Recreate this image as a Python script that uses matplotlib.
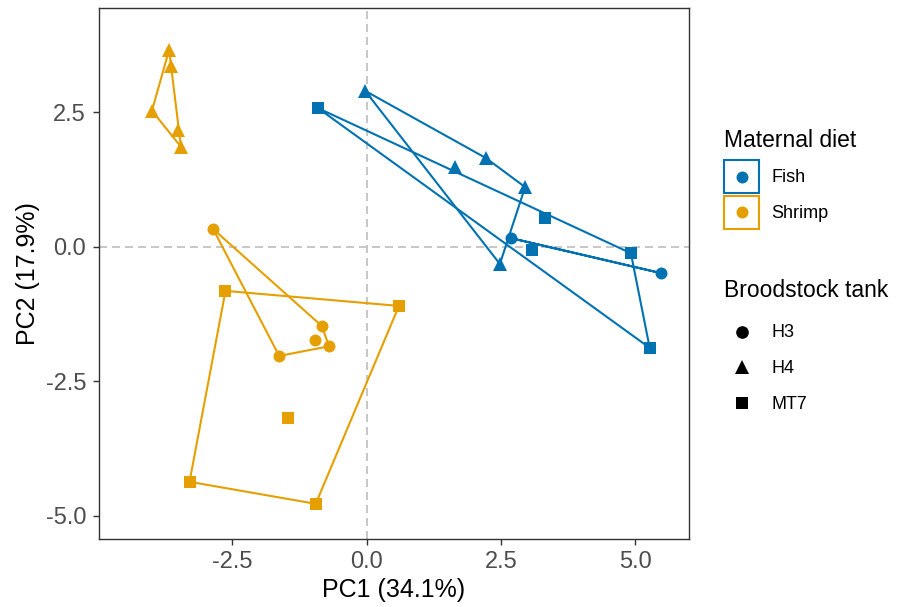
import matplotlib
matplotlib.use("Agg")
import matplotlib.pyplot as plt
from matplotlib.lines import Line2D
from matplotlib.patches import Rectangle
from matplotlib.legend_handler import HandlerTuple, HandlerLine2D
import numpy as np

plt.rcParams['font.family'] = ['Liberation Sans', 'DejaVu Sans']

# PCA scores, by maternal diet and broodstock tank
fish_h3_x = [2.69, 5.48]
fish_h3_y = [0.16, -0.49]
fish_h4_x = [-0.03, 1.64, 2.22, 2.95, 2.48]
fish_h4_y = [2.90, 1.48, 1.65, 1.11, -0.32]
fish_mt7_x = [-0.91, 3.32, 3.08, 4.92, 5.27]
fish_mt7_y = [2.58, 0.53, -0.06, -0.12, -1.88]

shrimp_h3_x = [-2.86, -1.63, -0.84, -0.96, -0.70]
shrimp_h3_y = [0.33, -2.03, -1.47, -1.73, -1.85]
shrimp_h4_x = [-3.68, -3.65, -4.00, -3.51, -3.46]
shrimp_h4_y = [3.66, 3.36, 2.53, 2.17, 1.86]
shrimp_mt7_x = [-2.63, 0.60, -1.47, -3.30, -0.95]
shrimp_mt7_y = [-0.82, -1.10, -3.19, -4.37, -4.78]

diets = ["Fish", "Shrimp"]
tanks = ["H3", "H4", "MT7"]
diet_colors = {"Fish": "#0072B2", "Shrimp": "#E69F00"}
tank_markers = {"H3": "o", "H4": "^", "MT7": "s"}
tank_sizes = {"H3": 8.6, "H4": 10, "MT7": 8.4}

groups = {
    ("Fish", "H3"): (fish_h3_x, fish_h3_y),
    ("Fish", "H4"): (fish_h4_x, fish_h4_y),
    ("Fish", "MT7"): (fish_mt7_x, fish_mt7_y),
    ("Shrimp", "H3"): (shrimp_h3_x, shrimp_h3_y),
    ("Shrimp", "H4"): (shrimp_h4_x, shrimp_h4_y),
    ("Shrimp", "MT7"): (shrimp_mt7_x, shrimp_mt7_y),
}


def chull(xs, ys):
    # monotone chain convex hull, returns closed list of points
    pts = sorted(set(zip(xs, ys)))
    if len(pts) < 3:
        return pts + [pts[0]]

    def cross(o, a, b):
        return (a[0] - o[0]) * (b[1] - o[1]) - (a[1] - o[1]) * (b[0] - o[0])

    lower = []
    for p in pts:
        while len(lower) >= 2 and cross(lower[-2], lower[-1], p) <= 0:
            lower.pop()
        lower.append(p)
    upper = []
    for p in reversed(pts):
        while len(upper) >= 2 and cross(upper[-2], upper[-1], p) <= 0:
            upper.pop()
        upper.append(p)
    hull = lower[:-1] + upper[:-1]
    return hull + [hull[0]]


class CenteredLine(HandlerLine2D):
    # put the marker in the middle of the key box
    def create_artists(self, legend, orig_handle, xdescent, ydescent,
                       width, height, fontsize, trans):
        return super().create_artists(legend, orig_handle, xdescent, ydescent,
                                      width, height - ydescent, fontsize, trans)


fig = plt.figure(figsize=(9.02, 6.07), dpi=100)
ax = fig.add_axes([0.1098, 0.1115, 0.6537, 0.8753])

ax.axhline(0, color="#BEBEBE", lw=1.2, ls=(0, (4.8, 3)), zorder=1)
ax.axvline(0, color="#BEBEBE", lw=1.2, ls=(0, (4.8, 3)), zorder=1)

# hulls first, points on top
for (diet, tank), (x, y) in groups.items():
    h = chull(x, y)
    hx = [p[0] for p in h]
    hy = [p[1] for p in h]
    ax.plot(hx, hy, color=diet_colors[diet], lw=1.5, zorder=2)

for (diet, tank), (x, y) in groups.items():
    ax.plot(x, y, ls="", marker=tank_markers[tank], ms=tank_sizes[tank],
            mew=0, color=diet_colors[diet], zorder=3)

ax.set_xlim(-4.985, 5.996)
ax.set_ylim(-5.44, 4.44)
ax.set_xticks([-2.5, 0.0, 2.5, 5.0])
ax.set_yticks([-5.0, -2.5, 0.0, 2.5])
ax.set_xticklabels(["-2.5", "0.0", "2.5", "5.0"])
ax.set_yticklabels(["-5.0", "-2.5", "0.0", "2.5"])
ax.tick_params(labelsize=17, labelcolor="#4D4D4D", color="#333333",
               length=4.3, width=1)
ax.tick_params(axis="y", pad=5)
ax.tick_params(axis="x", pad=4)
for s in ax.spines.values():
    s.set_color("#333333")
    s.set_linewidth(1)

ax.set_xlabel("PC1 (34.1%)", fontsize=18, labelpad=4)
ax.set_ylabel("PC2 (17.9%)", fontsize=18, labelpad=4)

# legends
fig.text(724 / 902, 1 - 147 / 607, "Maternal diet", fontsize=16.5, va="baseline")
fig.text(724 / 902, 1 - 297 / 607, "Broodstock tank", fontsize=16.5, va="baseline")

hmap = {tuple: HandlerTuple(ndivide=1), Line2D: CenteredLine()}

diet_handles = []
for d in diets:
    box = Rectangle((0, 0), 1, 1, fc="none", ec=diet_colors[d], lw=1.5)
    dot = Line2D([], [], ls="", marker="o", ms=8.6, mew=0, color=diet_colors[d])
    diet_handles.append((box, dot))
leg1 = fig.legend(diet_handles, diets, loc="upper left",
                  bbox_to_anchor=(724 / 902, 1 - 160 / 607),
                  handler_map=hmap,
                  frameon=False, fontsize=13, borderpad=0, borderaxespad=0,
                  handlelength=1.94, handleheight=2.45, labelspacing=0.15,
                  handletextpad=0.67)

tank_handles = [Line2D([], [], ls="", marker=tank_markers[t], ms=tank_sizes[t] + 0.5,
                       mew=0, color="black") for t in tanks]
leg2 = fig.legend(tank_handles, tanks, loc="upper left",
                  bbox_to_anchor=(724 / 902, 1 - 315 / 607),
                  handler_map=hmap,
                  frameon=False, fontsize=13, borderpad=0, borderaxespad=0,
                  handlelength=1.94, handleheight=2.45, labelspacing=0.15,
                  handletextpad=0.67)

fig.savefig("out.png", dpi=100)
